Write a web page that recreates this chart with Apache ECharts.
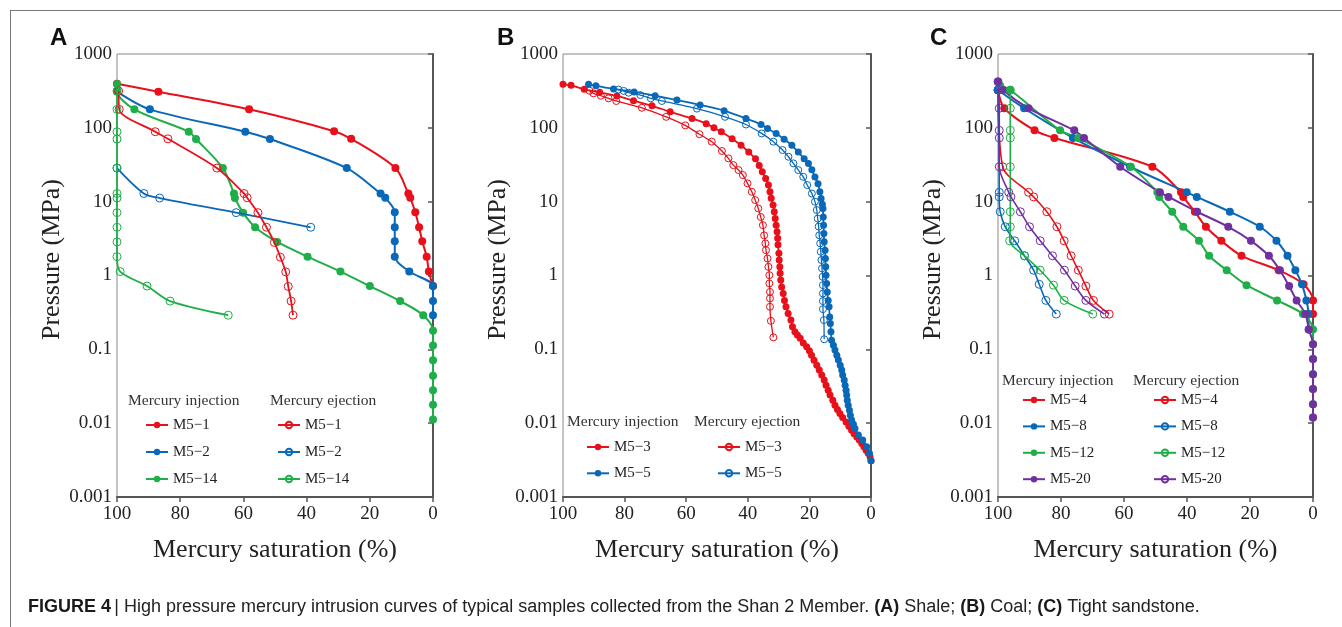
<!DOCTYPE html>
<html>
<head>
<meta charset="utf-8">
<script src="https://cdn.jsdelivr.net/npm/echarts@6/dist/echarts.min.js"></script>
<style>
html,body{margin:0;padding:0;background:#fff;}
#chart{width:1342px;height:627px;}
</style>
</head>
<body>
<div id="chart"></div>
<script>
// ---------- DATA (x: mercury saturation %, y: pressure MPa) ----------
const xTicks = [100, 80, 60, 40, 20, 0];
const yTicks = [1000, 100, 10, 1, 0.1, 0.01, 0.001];
const panelLetters = ['A', 'B', 'C'];
const xTitle = 'Mercury saturation (%)';
const yTitle = 'Pressure (MPa)';
const legendHeads = ['Mercury injection', 'Mercury ejection'];
const caption = 'High pressure mercury intrusion curves of typical samples collected from the Shan 2 Member.';

// Panel A (shale)
const A_M5_1_inj = [[100,395],[86.9,308],[58.2,178],[31.3,90],[25.9,71],[11.9,28.5],[7.8,12.9],[7.2,11.3],[5.6,7.2],[4.4,4.5],[3.4,2.9],[2.0,1.8],[1.3,1.13],[0,0.72]];
const A_M5_1_ej = [[99.5,316],[99.3,178],[87.9,88.6],[83.9,71],[68.4,28.5],[59.8,12.9],[58.8,11.3],[55.4,7.1],[52.7,4.5],[50.2,2.8],[48.3,1.77],[46.6,1.12],[45.8,0.71],[44.9,0.45],[44.3,0.29]];
const A_M5_2_inj = [[100,310],[89.6,178],[59.4,88.6],[51.6,70.5],[27.3,28.5],[16.6,12.9],[15.1,11.3],[12.1,7.2],[12.1,4.5],[12.1,2.9],[12.1,1.8],[7.5,1.13],[0,0.72],[0,0.45],[0,0.29]];
const A_M5_2_ej = [[100,28.5],[91.5,12.9],[86.5,11.2],[62.3,7.1],[38.7,4.5]];
const A_M5_14_inj = [[100,392],[100,316],[94.5,178],[77.3,88.6],[75,70.5],[66.5,28.5],[63,12.9],[62.7,11.2],[60.1,7.1],[56.3,4.5],[49.3,2.85],[39.7,1.8],[29.3,1.13],[20,0.72],[10.4,0.45],[3.1,0.29],[0,0.178],[0,0.113],[0,0.071],[0,0.044],[0,0.028],[0,0.0177],[0,0.0112]];
const A_M5_14_ej = [[100,316],[100,178],[100,88.6],[100,70.5],[100,28.5],[100,12.9],[100,11.2],[100,7.1],[100,4.5],[100,2.85],[100,1.8],[99,1.13],[90.5,0.72],[83.2,0.45],[64.8,0.29]];

// Panel B (coal)
const B_M5_3_inj = [[100,388],[97.4,376],[93.1,333],[88.1,303],[82.5,270],[77.1,233],[71.1,199],[65.2,165],[58.1,134],[53.5,114],[51,100],[48.6,88.5],[45.1,71],[42.2,58],[39.7,47],[37.5,38],[36.3,31],[35.3,25.4],[34.2,20.6],[33.3,16.8],[32.8,13.6],[32.4,11.1],[31.8,9],[31.4,7.3],[31.1,5.9],[30.8,4.8],[30.5,3.9],[30.3,3.2],[30.2,2.6],[29.9,2.0],[29.8,1.62],[29.6,1.31],[29.5,1.07],[29.3,0.87],[29,0.70],[28.5,0.57],[28.1,0.46],[27.6,0.377],[26.9,0.306],[26,0.249],[25.5,0.202],[24.7,0.173],[23.9,0.156],[23,0.141],[22,0.122],[20.9,0.108],[20,0.0955],[19.3,0.083],[18.5,0.0714],[17.6,0.061],[16.8,0.0523],[16,0.045],[15.2,0.0383],[14.6,0.0327],[13.9,0.028],[13.3,0.024],[12.4,0.0205],[11.7,0.0175],[10.9,0.0153],[10.1,0.0135],[9.2,0.0119],[8.1,0.0104],[7.2,0.0091],[6.3,0.008],[5.5,0.0072],[4.6,0.0065],[3.8,0.0059],[3,0.0053],[2.3,0.0048],[1.6,0.0043],[0.9,0.0039],[0.3,0.0035],[0,0.0031]];
const B_M5_3_ej = [[91.4,318],[90.1,293],[87.7,272],[85.2,251],[82.7,231],[74.4,187],[66.5,141],[60.3,108],[55.7,82],[51.7,65],[48.4,48.6],[46.3,38.6],[44.7,31.3],[43,26.8],[41.6,22.9],[40.1,17.7],[38.7,13.6],[37.6,10.5],[36.6,8.1],[35.8,6.2],[35.1,4.8],[34.7,3.5],[34.3,2.72],[34.1,2.2],[33.6,1.7],[33.3,1.31],[33,1.01],[33,0.78],[32.8,0.60],[32.8,0.49],[32.8,0.377],[32.5,0.243],[31.7,0.145]];
const B_M5_5_inj = [[91.7,388],[89.3,372],[83.6,336],[76.9,306],[70.1,272],[63,238],[55.5,204],[47.7,171],[40.6,134],[35.7,111],[33.6,98],[30.8,84],[28.2,70],[25.7,58],[23.6,47],[21.7,38],[20.3,33],[19.2,27],[18.2,21.5],[17.2,17.5],[16.6,13.6],[16.2,11],[15.8,9.2],[15.6,8.1],[15.5,6.2],[15.4,4.8],[15.3,3.7],[15.2,2.87],[14.9,2.2],[14.8,1.7],[14.7,1.31],[14.6,1.01],[14.4,0.78],[14.2,0.60],[13.9,0.46],[13.6,0.377],[13.4,0.275],[13.2,0.224],[13.0,0.173],[12.8,0.133],[12.2,0.114],[11.7,0.098],[11.1,0.083],[10.6,0.0715],[10,0.061],[9.5,0.0523],[9.2,0.045],[8.7,0.0383],[8.4,0.0327],[8.1,0.028],[7.9,0.024],[7.7,0.0205],[7.4,0.0175],[7,0.015],[6.7,0.0128],[6.3,0.011],[5.7,0.0097],[5.2,0.0085],[4.1,0.0069],[2.7,0.0059],[1.4,0.0048],[0.5,0.0039],[0,0.0031]];
const B_M5_5_ej = [[82,330],[80.3,316],[78.7,299],[74.9,278],[71.5,251],[67.9,231],[56.5,182],[47.4,141],[40.6,111],[35.5,84],[31.7,65],[28.7,50],[26.8,40.6],[25.2,33],[23.6,26.8],[22,21.7],[20.7,16.8],[19.2,12.9],[18.2,10],[17.6,7.7],[17.3,5.9],[17,4.6],[16.8,3.5],[16.5,2.72],[16.3,2.1],[16.1,1.62],[15.9,1.25],[15.7,0.96],[15.6,0.74],[15.6,0.57],[15.6,0.45],[15.6,0.35],[15.3,0.249],[15.2,0.137]];

// Panel C (tight sandstone)
const C_M5_4_inj = [[100,325],[98,184],[88.4,92.5],[82.1,73],[51,29.7],[41.9,13.4],[41.2,11.6],[37.5,7.3],[34,4.57],[29.1,2.95],[22.7,1.85],[10.9,1.18],[3,0.76],[0,0.46],[0,0.30]];
const C_M5_4_ej = [[100,325],[98.5,29.7],[90.3,13.4],[88.7,11.6],[84.5,7.3],[81.3,4.57],[79,2.95],[76.8,1.85],[74.5,1.18],[72.1,0.72],[69.7,0.46],[64.7,0.30]];
const C_M5_8_inj = [[100,325],[91.7,184],[76.2,73],[58.1,29.7],[40.1,13.4],[36.9,11.6],[26.4,7.3],[16.9,4.57],[11.6,2.95],[8.1,1.85],[5.6,1.18],[3.5,0.76],[2.1,0.46],[1.4,0.30],[1.4,0.186]];
const C_M5_8_ej = [[100,325],[99.6,13.4],[99.6,11.6],[99.3,7.3],[97.7,4.57],[94.7,2.95],[91.6,1.85],[88.7,1.18],[86.9,0.76],[84.8,0.46],[81.5,0.30]];
const C_M5_12_inj = [[99.3,372],[96.1,325],[80.3,92.5],[74.5,73],[57.8,29.7],[49.4,13.4],[48.8,11.6],[44.7,7.3],[41.2,4.57],[36.2,2.95],[33,1.85],[27.4,1.18],[21.1,0.74],[11.4,0.46],[3.2,0.30],[0,0.186],[0,0.117],[0,0.074],[0,0.046],[0,0.029],[0,0.018],[0,0.0119]];
const C_M5_12_ej = [[96.1,325],[96.1,184],[96.1,92.5],[96.1,73],[96.1,29.7],[96.1,7.3],[96.1,4.57],[96.3,2.95],[91.6,1.85],[86.6,1.18],[82.4,0.74],[79,0.46],[69.9,0.30]];
const C_M5_20_inj = [[100,422],[98.4,325],[90.3,184],[75.8,92.5],[72.7,73],[61.2,29.7],[48.6,13.4],[45.9,11.6],[36.8,7.3],[26.9,4.57],[19.7,2.95],[14,1.85],[10.5,1.18],[7.6,0.72],[5.2,0.46],[2.4,0.30],[1.3,0.186],[0,0.117],[0,0.074],[0,0.046],[0,0.029],[0,0.018],[0,0.0119]];
const C_M5_20_ej = [[100,422],[99.6,184],[99.6,92.5],[99.6,73],[99.6,29.7],[96.6,13.4],[95.9,11.6],[92.9,7.3],[90,4.57],[86.6,2.95],[82.7,1.85],[78.9,1.18],[75.5,0.72],[72.1,0.46],[66.2,0.30]];

// ---------- STYLE ----------
const RED = '#e8101a', BLUE = '#0a68b8', GREEN = '#1fae48', PURPLE = '#7030a0';
const SERIF = "'Liberation Serif','Times New Roman',serif";
const SANS = "'Liberation Sans',Arial,sans-serif";

const grids = [
  {left: 117, top: 54, width: 316, height: 443},
  {left: 563, top: 54, width: 308, height: 443},
  {left: 998, top: 54, width: 315, height: 443}
];

const series = [];
function add(panel, kind, label, data, color, sym, lw, smooth) {
  const hollow = kind === 'ej';
  series.push({
    name: panel + '|' + kind + '|' + label,
    type: 'line',
    xAxisIndex: panel === 'A' ? 0 : panel === 'B' ? 1 : 2,
    yAxisIndex: panel === 'A' ? 0 : panel === 'B' ? 1 : 2,
    data: data,
    smooth: smooth,
    symbol: 'circle',
    symbolSize: sym,
    showSymbol: true,
    lineStyle: {color: color, width: lw},
    itemStyle: hollow ? {color: 'rgba(255,255,255,0)', borderColor: color, borderWidth: 1}
                      : {color: color, borderColor: color, borderWidth: 0},
    emphasis: {disabled: true},
    animation: false,
    z: hollow ? 3 : 2
  });
}
add('A','inj','M5\u22121',A_M5_1_inj,RED,8,2,0.3);
add('A','inj','M5\u22122',A_M5_2_inj,BLUE,8,2,0.3);
add('A','inj','M5\u221214',A_M5_14_inj,GREEN,8,2,0.3);
add('A','ej','M5\u22121',A_M5_1_ej,RED,8,1.8,0.3);
add('A','ej','M5\u22122',A_M5_2_ej,BLUE,8,1.8,0.3);
add('A','ej','M5\u221214',A_M5_14_ej,GREEN,8,1.8,0.3);

add('B','inj','M5\u22123',B_M5_3_inj,RED,7,1.8,0.2);
add('B','inj','M5\u22125',B_M5_5_inj,BLUE,7,1.8,0.2);
add('B','ej','M5\u22123',B_M5_3_ej,RED,7,1.3,0.2);
add('B','ej','M5\u22125',B_M5_5_ej,BLUE,7,1.3,0.2);

add('C','inj','M5\u22124',C_M5_4_inj,RED,8,2,0.3);
add('C','inj','M5\u22128',C_M5_8_inj,BLUE,8,2,0.3);
add('C','inj','M5\u221212',C_M5_12_inj,GREEN,8,2,0.3);
add('C','inj','M5-20',C_M5_20_inj,PURPLE,8,2,0.3);
add('C','ej','M5\u22124',C_M5_4_ej,RED,8,1.6,0.3);
add('C','ej','M5\u22128',C_M5_8_ej,BLUE,8,1.6,0.3);
add('C','ej','M5\u221212',C_M5_12_ej,GREEN,8,1.6,0.3);
add('C','ej','M5-20',C_M5_20_ej,PURPLE,8,1.6,0.3);

function names(panel, kind) {
  return series.filter(s => s.name.startsWith(panel + '|' + kind + '|')).map(s => s.name);
}
function mkLegend(panel, kind, left, top, gap) {
  return {
    data: names(panel, kind),
    orient: 'vertical', left: left, top: top, padding: 0,
    itemWidth: 22, itemHeight: 8, itemGap: gap,
    selectedMode: false,
    formatter: n => n.split('|')[2],
    textStyle: {fontFamily: SERIF, fontSize: 15, color: '#222', lineHeight: 16}
  };
}
const legends = [
  mkLegend('A','inj',145,417,11), mkLegend('A','ej',277,417,11),
  mkLegend('B','inj',586,439,10.3), mkLegend('B','ej',717,439,10.3),
  mkLegend('C','inj',1022,392,10.4), mkLegend('C','ej',1153,392,10.4)
];

const xAxes = grids.map((g, i) => ({
  type: 'value', gridIndex: i, min: 0, max: 100, interval: 20, inverse: true,
  name: xTitle, nameLocation: 'middle', nameGap: 40,
  nameTextStyle: {fontFamily: SERIF, fontSize: 26, color: '#222'},
  axisLine: {show: true, lineStyle: {color: '#555', width: 2}},
  axisTick: {show: true, length: 5, lineStyle: {color: '#555', width: 1.5}},
  axisLabel: {fontFamily: SERIF, fontSize: 19, color: '#222', margin: 8, formatter: v => String(v)},
  splitLine: {show: false}
}));
const yAxes = grids.map((g, i) => ({
  type: 'log', logBase: 10, gridIndex: i, min: 0.001, max: 1000,
  name: yTitle, nameLocation: 'middle', nameGap: 46,
  nameTextStyle: {fontFamily: SERIF, fontSize: 26, color: '#222', padding: [0, 0, 0, 32]},
  axisLine: {show: true, lineStyle: {color: '#555', width: 2}},
  axisTick: {show: true, length: 5, lineStyle: {color: '#555', width: 1.5}},
  axisLabel: {fontFamily: SERIF, fontSize: 19, color: '#222', margin: 5,
              formatter: v => String(+(+v).toPrecision(6))},
  splitLine: {show: false}
}));

const heads = [
  {x: 128, y: 402}, {x: 270, y: 402},
  {x: 567, y: 423}, {x: 694, y: 423},
  {x: 1002, y: 382}, {x: 1133, y: 382}
];
const graphic = [];
heads.forEach((h, i) => graphic.push({
  type: 'text', left: h.x, top: h.y - 9,
  style: {text: legendHeads[i % 2], font: '15.5px ' + SERIF, fill: '#333'}
}));
[[50, 26], [497, 26], [930, 26]].forEach((p, i) => graphic.push({
  type: 'text', left: p[0], top: p[1],
  style: {text: panelLetters[i], font: 'bold 24px ' + SANS, fill: '#111'}
}));
graphic.push({type: 'line', shape: {x1: 10, y1: 10.5, x2: 1342, y2: 10.5}, style: {stroke: '#777', lineWidth: 1}});
graphic.push({type: 'line', shape: {x1: 10.5, y1: 10, x2: 10.5, y2: 627}, style: {stroke: '#777', lineWidth: 1}});
graphic.push({
  type: 'text', left: 28, top: 598,
  style: {
    text: '{b|FIGURE 4} {r|| ' + caption + ' }{b|(A)}{r| Shale; }{b|(B)}{r| Coal; }{b|(C)}{r| Tight sandstone.}',
    rich: {
      b: {font: 'bold 18px ' + SANS, fill: '#1a1a1a'},
      r: {font: '18px ' + SANS, fill: '#222'}
    }
  }
});

const chart = echarts.init(document.getElementById('chart'), null, {renderer: 'canvas'});
chart.setOption({
  backgroundColor: '#fff',
  animation: false,
  grid: grids.map(g => Object.assign({show: true, borderColor: '#888', borderWidth: 1, backgroundColor: 'transparent'}, g)),
  xAxis: xAxes,
  yAxis: yAxes,
  legend: legends,
  series: series,
  graphic: graphic
});
</script>
</body>
</html>
